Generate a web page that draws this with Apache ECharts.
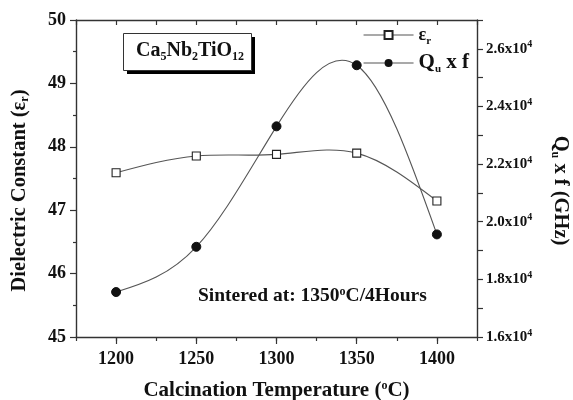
<!DOCTYPE html>
<html><head><meta charset="utf-8">
<script src="https://cdn.jsdelivr.net/npm/echarts@6/dist/echarts.min.js"></script>
<style>html,body{margin:0;padding:0;background:#fff}#c{width:573px;height:400px}</style>
</head><body><div id="c"></div>
<script>
var categories = [1200, 1250, 1300, 1350, 1400];
var epsR = [47.59, 47.855, 47.88, 47.90, 47.145];
var quf = [17560, 19130, 23310, 25430, 19560];
var rightTicks = [16000, 18000, 20000, 22000, 24000, 26000];

var FONT = '"Liberation Serif", "Times New Roman", serif';

// natural cubic spline slopes at each knot (used only to shape the drawn curve)
function splineSlopes(xs, ys) {
  var n = xs.length, M = new Array(n).fill(0);
  if (n > 2) {
    var a = [], b = [], c = [], d = [];
    for (var i = 1; i < n - 1; i++) {
      var h0 = xs[i] - xs[i - 1], h1 = xs[i + 1] - xs[i];
      a.push(h0); b.push(2 * (h0 + h1)); c.push(h1);
      d.push(6 * ((ys[i + 1] - ys[i]) / h1 - (ys[i] - ys[i - 1]) / h0));
    }
    var m = b.length;
    for (var k = 1; k < m; k++) {
      var w = a[k] / b[k - 1];
      b[k] -= w * c[k - 1]; d[k] -= w * d[k - 1];
    }
    var sol = new Array(m);
    sol[m - 1] = d[m - 1] / b[m - 1];
    for (var k2 = m - 2; k2 >= 0; k2--) sol[k2] = (d[k2] - c[k2] * sol[k2 + 1]) / b[k2];
    for (var j = 0; j < m; j++) M[j + 1] = sol[j];
  }
  var segs = [];
  for (var s = 0; s < n - 1; s++) {
    var h = xs[s + 1] - xs[s], dy = (ys[s + 1] - ys[s]) / h;
    segs.push({d0: dy - h * (2 * M[s] + M[s + 1]) / 6, d1: dy + h * (M[s] + 2 * M[s + 1]) / 6});
  }
  return segs;
}

function curveSeries(ys, yAxisIndex) {
  var segs = splineSlopes(categories, ys);
  return {
    type: 'custom', xAxisIndex: 0, yAxisIndex: yAxisIndex, z: 2, silent: true,
    data: categories.slice(0, -1).map(function (c, i) { return [c, ys[i]]; }),
    encode: {x: 0, y: 1},
    renderItem: function (params, api) {
      var i = params.dataIndex;
      var x0 = categories[i], x1 = categories[i + 1], h = x1 - x0;
      var p0 = api.coord([x0, ys[i]]);
      var p1 = api.coord([x1, ys[i + 1]]);
      var c0 = api.coord([x0 + h / 3, ys[i] + segs[i].d0 * h / 3]);
      var c1 = api.coord([x1 - h / 3, ys[i + 1] - segs[i].d1 * h / 3]);
      return {
        type: 'bezierCurve',
        shape: {x1: p0[0], y1: p0[1], x2: p1[0], y2: p1[1], cpx1: c0[0], cpy1: c0[1], cpx2: c1[0], cpy2: c1[1]},
        style: {stroke: '#555', lineWidth: 1.1, fill: null}
      };
    }
  };
}

var chart = echarts.init(document.getElementById('c'));
var axisLine = {show: true, lineStyle: {color: '#333', width: 1.4}};
var tickStyle = {color: '#333', width: 1.2};
var subRich = function (fs, pad) { return {fontSize: fs, fontFamily: FONT, fontWeight: 'bold', verticalAlign: 'bottom', padding: [pad, 0, 0, 0]}; };
var supRich = function (fs, pad) { return {fontSize: fs, fontFamily: FONT, fontWeight: 'bold', verticalAlign: 'top', padding: [0, 0, pad, 0]}; };

chart.setOption({
  animation: false,
  backgroundColor: '#fff',
  grid: {left: 76, right: 96, top: 20, bottom: 63, containLabel: false, outerBoundsMode: 'none'},
  legend: {
    orient: 'vertical', left: 363, top: 26, padding: 0, itemGap: 6, itemWidth: 50, itemHeight: 10,
    textStyle: {fontFamily: FONT, fontWeight: 'bold', fontSize: 21, color: '#111',
      rich: {sub: subRich(11, 12), eps: {fontFamily: FONT, fontSize: 18, fontWeight: 'bold'}}},
    formatter: function (n) { return n === 'eps' ? '{eps|ε}{sub|r}' : 'Q{sub|u} x f'; },
    data: [
      {name: 'eps', lineStyle: {color: '#555', width: 1.1, opacity: 1}},
      {name: 'quf', lineStyle: {color: '#555', width: 1.1, opacity: 1}}
    ]
  },
  xAxis: [{
    type: 'value', min: 1175, max: 1425, interval: 25,
    axisLine: axisLine,
    axisTick: {show: true, length: 4, lineStyle: tickStyle},
    splitLine: {show: false},
    axisLabel: {fontFamily: FONT, fontWeight: 'bold', fontSize: 18, color: '#111', margin: 13,
      formatter: function (v) { return categories.indexOf(v) >= 0 ? String(v) : ''; }},
    name: 'Calcination Temperature ({sup|o}C)', nameLocation: 'middle', nameGap: 43,
    nameTextStyle: {fontFamily: FONT, fontWeight: 'bold', fontSize: 21, color: '#111', rich: {sup: supRich(12, 8)}}
  }, {
    type: 'value', position: 'top', min: 1175, max: 1425, interval: 25,
    axisLine: axisLine,
    axisTick: {show: true, inside: true, length: 5, lineStyle: tickStyle},
    axisLabel: {show: false}, splitLine: {show: false}
  }, {
    type: 'value', position: 'bottom', min: 1175, max: 1425, interval: 25,
    axisLine: {show: false},
    axisTick: {show: true, length: 7, lineStyle: tickStyle, customValues: categories},
    axisLabel: {show: false}, splitLine: {show: false}
  }],
  yAxis: [{
    type: 'value', min: 45, max: 50, interval: 1,
    axisLine: axisLine,
    axisTick: {show: true, length: 6, lineStyle: tickStyle},
    minorTick: {show: true, splitNumber: 2, length: 3, lineStyle: tickStyle},
    splitLine: {show: false},
    axisLabel: {fontFamily: FONT, fontWeight: 'bold', fontSize: 18, color: '#111', margin: 10},
    name: 'Dielectric Constant (ε{sub|r})', nameLocation: 'middle', nameGap: 45, nameRotate: 90,
    nameTextStyle: {fontFamily: FONT, fontWeight: 'bold', fontSize: 20.5, color: '#111', padding: [0, 24, 0, 0],
      rich: {sub: subRich(12, 10)}}
  }, {
    type: 'value', min: 16000, max: 27000, interval: 2000,
    axisLine: axisLine,
    axisTick: {show: true, length: 6, lineStyle: tickStyle},
    minorTick: {show: true, splitNumber: 2, length: 6, lineStyle: tickStyle},
    splitLine: {show: false},
    axisLabel: {fontFamily: FONT, fontWeight: 'bold', fontSize: 15, color: '#111', margin: 9,
      formatter: function (v) { return rightTicks.indexOf(v) >= 0 ? (v / 10000).toFixed(1) + 'x10{sup|4}' : ''; },
      rich: {sup: supRich(10, 8)}},
    name: 'Q{sub|u} x f (GHz)', nameLocation: 'middle', nameGap: 72, nameRotate: -90,
    nameTextStyle: {fontFamily: FONT, fontWeight: 'bold', fontSize: 20.5, color: '#111', padding: [0, 0, 0, 24],
      rich: {sub: subRich(12, 10)}}
  }],
  graphic: [
    {type: 'rect', left: 127, top: 37, shape: {width: 128, height: 37}, style: {fill: '#000'}, z: 10},
    {type: 'rect', left: 123, top: 33, shape: {width: 128, height: 37}, style: {fill: '#fff', stroke: '#333', lineWidth: 1}, z: 11},
    {type: 'text', left: 136, top: 41, z: 12, style: {
      text: 'Ca{sub|5}Nb{sub|2}TiO{sub|12}', font: 'bold 20px ' + FONT, fill: '#111',
      rich: {sub: subRich(12, 12)}}},
    {type: 'text', left: 198, top: 286, z: 12, style: {
      text: 'Sintered at: 1350{sup|o}C/4Hours', font: 'bold 19.5px ' + FONT, fill: '#111',
      rich: {sup: supRich(12, 8)}}}
  ],
  series: [
    curveSeries(epsR, 0),
    curveSeries(quf, 1),
    {
      name: 'eps', type: 'line', xAxisIndex: 0, yAxisIndex: 0,
      data: categories.map(function (c, i) { return [c, epsR[i]]; }),
      symbol: 'rect', symbolSize: 8,
      lineStyle: {opacity: 0},
      itemStyle: {color: '#fff', borderColor: '#222', borderWidth: 1.1}, z: 3
    }, {
      name: 'quf', type: 'line', xAxisIndex: 0, yAxisIndex: 1,
      data: categories.map(function (c, i) { return [c, quf[i]]; }),
      symbol: 'circle', symbolSize: 9,
      lineStyle: {opacity: 0},
      itemStyle: {color: '#111', borderColor: '#111'}, z: 4
    }
  ]
});
</script></body></html>
